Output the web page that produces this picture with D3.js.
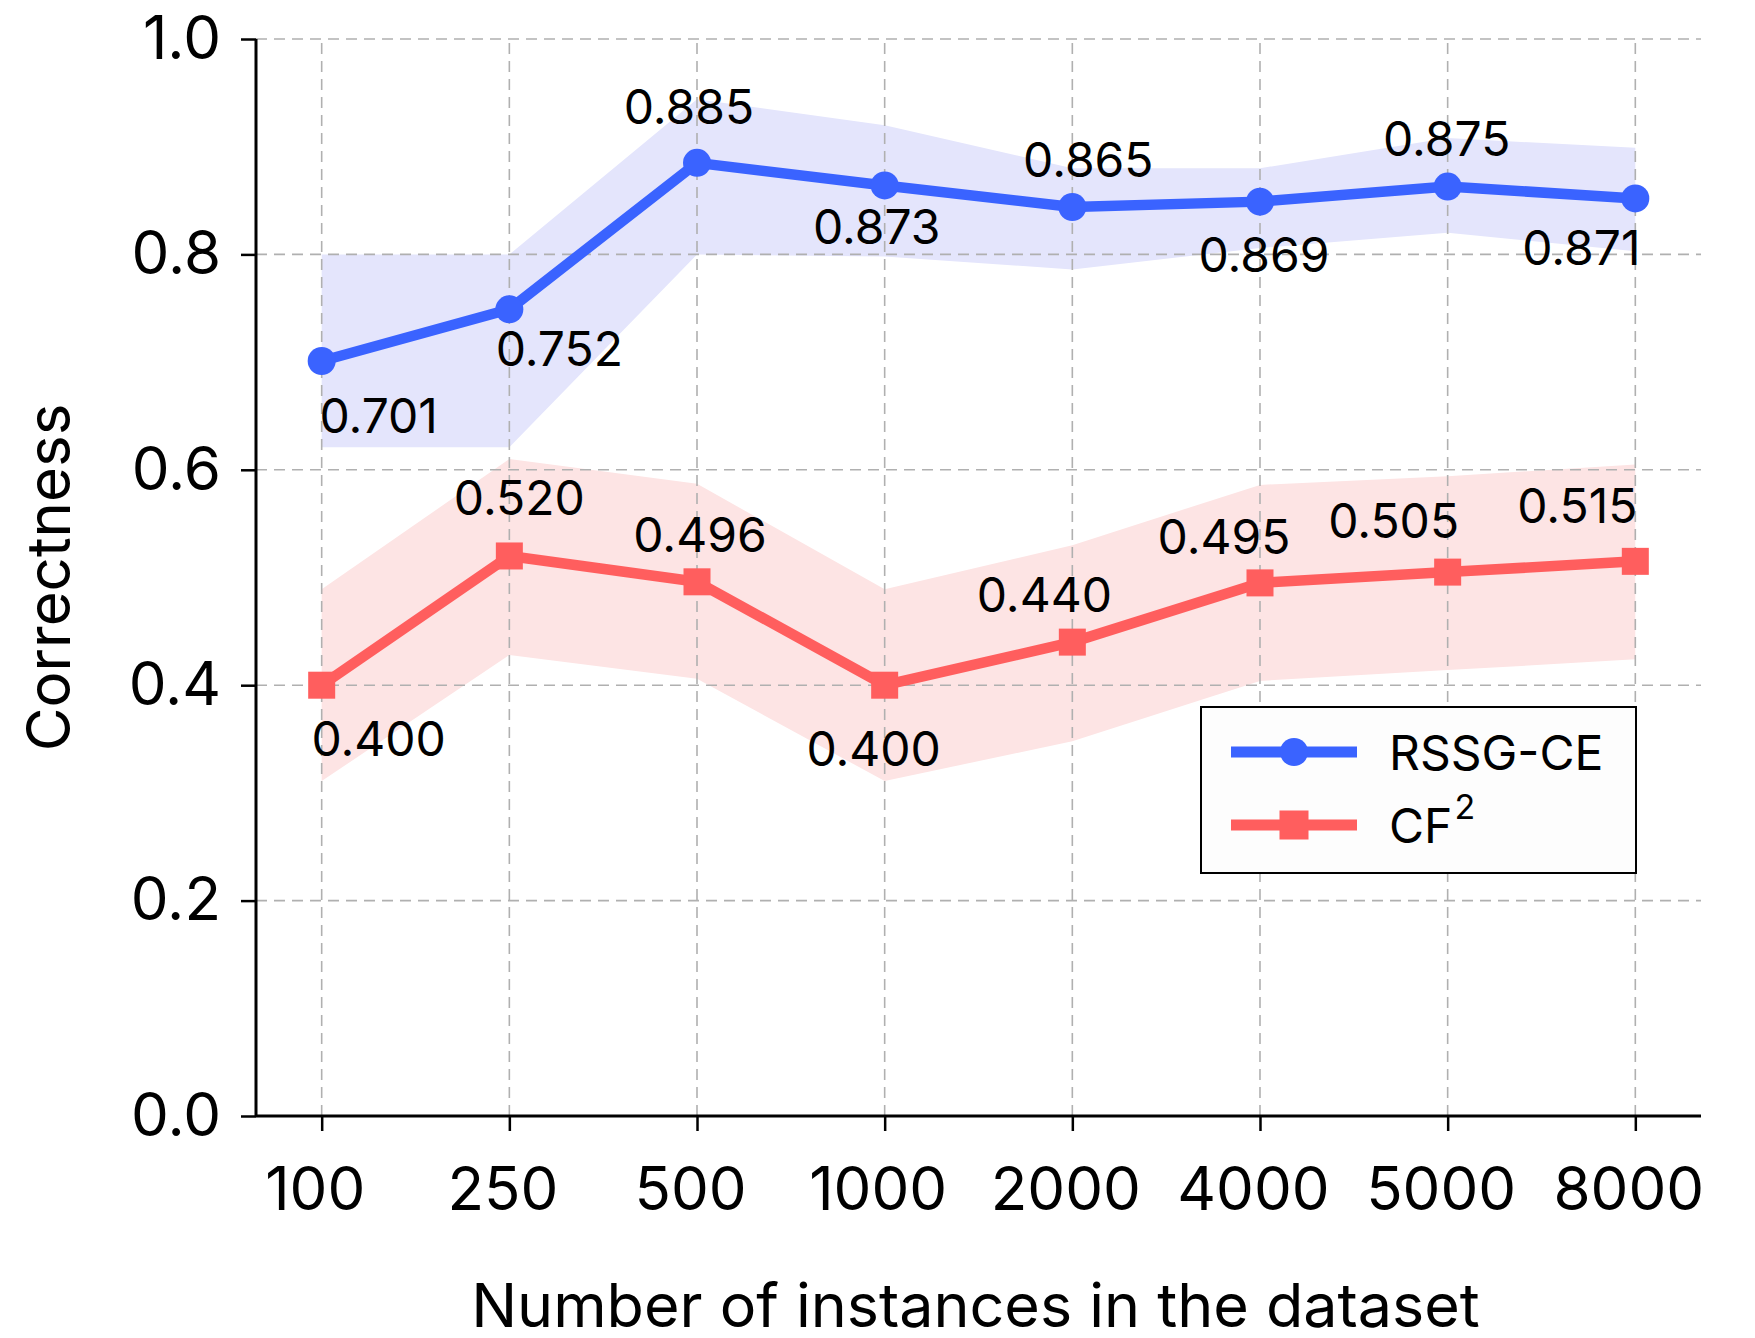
<!DOCTYPE html>
<html>
<head>
<meta charset="utf-8">
<script src="https://cdn.jsdelivr.net/npm/d3@7"></script>
<style>
  html, body { margin: 0; padding: 0; background: #fff; }
  svg { display: block; font-family: Inter, "Noto Sans", sans-serif; }
</style>
</head>
<body>
<svg id="chart" width="1755" height="1338"></svg>
<script>
// ---------------- data ----------------
const categories = ["100", "250", "500", "1000", "2000", "4000", "5000", "8000"];

const rssgMean   = [0.701, 0.749, 0.885, 0.864, 0.844, 0.849, 0.863, 0.852];
const rssgUpper  = [0.800, 0.800, 0.944, 0.920, 0.880, 0.880, 0.908, 0.899];
const rssgLower  = [0.621, 0.621, 0.800, 0.798, 0.786, 0.806, 0.820, 0.803];
const rssgLabels = ["0.701", "0.752", "0.885", "0.873", "0.865", "0.869", "0.875", "0.871"];

const cf2Mean    = [0.400, 0.520, 0.496, 0.400, 0.440, 0.495, 0.505, 0.515];
const cf2Upper   = [0.489, 0.610, 0.587, 0.489, 0.530, 0.586, 0.594, 0.605];
const cf2Lower   = [0.311, 0.428, 0.406, 0.311, 0.348, 0.404, 0.414, 0.424];
const cf2Labels  = ["0.400", "0.520", "0.496", "0.400", "0.440", "0.495", "0.505", "0.515"];

const yTicks = [0.0, 0.2, 0.4, 0.6, 0.8, 1.0];
const seriesNames = ["RSSG-CE", "CF"];

// ---------------- layout (pixel offsets of value labels) ----------------
const rssgLabelOffsets = [[57, 72], [50, 57], [-8, -39], [-8, 59], [16, -30], [4, 70], [-1, -31], [-54, 67]];
const cf2LabelOffsets  = [[57, 71], [10, -41], [3, -30], [-11, 81], [-28, -30], [-36, -29], [-54, -34], [-58, -38]];

const W = 1755, H = 1338;
const margin = { left: 256, right: 54, top: 39, bottom: 222 };
const x0 = margin.left, x1 = W - margin.right;
const y0 = H - margin.bottom, y1 = margin.top;

const blue = "#3A63FF", red = "#FF5E5E";
const blueFill = "#E4E5FC", redFill = "#FDE4E4";

const svg = d3.select("#chart");

const x = d3.scalePoint().domain(categories).range([x0, x1]).padding(0.35);
const y = d3.scaleLinear().domain([0, 1]).range([y0, y1]);

// bands
function band(upper, lower, fill) {
  const area = d3.area()
    .x((d, i) => x(categories[i]))
    .y0((d, i) => y(lower[i]))
    .y1((d, i) => y(upper[i]));
  svg.append("path").datum(upper).attr("d", area).attr("fill", fill).attr("stroke", "none");
}
band(rssgUpper, rssgLower, blueFill);
band(cf2Upper, cf2Lower, redFill);

// grid
const grid = svg.append("g");
grid.selectAll("line.h").data(yTicks.filter(t => t > 0)).join("line")
  .attr("x1", x0).attr("x2", x1)
  .attr("y1", d => y(d)).attr("y2", d => y(d))
  .attr("stroke", "#b0b0b0").attr("stroke-width", 1.6).attr("stroke-dasharray", "11,7");
grid.selectAll("line.v").data(categories).join("line")
  .attr("x1", d => x(d)).attr("x2", d => x(d))
  .attr("y1", y0).attr("y2", y1)
  .attr("stroke", "#b0b0b0").attr("stroke-width", 1.6).attr("stroke-dasharray", "11,7");

// axes
const xAxis = d3.axisBottom(x).tickSize(15).tickPadding(36);
const gx = svg.append("g").attr("transform", `translate(0,${y0})`).call(xAxis);
gx.select(".domain").attr("stroke", "#000").attr("stroke-width", 3).attr("d", `M${x0},0H${x1}`);
gx.selectAll(".tick line").attr("stroke", "#000").attr("stroke-width", 2.5);
gx.selectAll(".tick text").attr("font-size", 60).attr("font-family", "Inter").attr("fill", "#000").attr("dx", -7);

const yAxis = d3.axisLeft(y).tickValues(yTicks).tickFormat(d3.format(".1f")).tickSize(15).tickPadding(20);
const gy = svg.append("g").attr("transform", `translate(${x0},0)`).call(yAxis);
gy.select(".domain").attr("stroke", "#000").attr("stroke-width", 3).attr("d", `M0,${y0}V${y1}`);
gy.selectAll(".tick line").attr("stroke", "#000").attr("stroke-width", 2.5);
gy.selectAll(".tick text").attr("font-size", 60).attr("font-family", "Inter").attr("fill", "#000");

// axis titles
svg.append("text").attr("x", (x0 + x1) / 2 - 3).attr("y", 1327)
  .attr("text-anchor", "middle").attr("font-size", 61).attr("fill", "#000")
  .text("Number of instances in the dataset");
svg.append("text").attr("transform", `translate(70,${(y0 + y1) / 2}) rotate(-90)`)
  .attr("text-anchor", "middle").attr("font-size", 60).attr("fill", "#000")
  .text("Correctness");

// lines
const line = d3.line().x((d, i) => x(categories[i])).y(d => y(d));
svg.append("path").datum(rssgMean).attr("d", line).attr("fill", "none")
  .attr("stroke", blue).attr("stroke-width", 10.5).attr("stroke-linejoin", "round");
svg.append("path").datum(cf2Mean).attr("d", line).attr("fill", "none")
  .attr("stroke", red).attr("stroke-width", 10.5).attr("stroke-linejoin", "round");

// markers
svg.append("g").selectAll("circle").data(rssgMean).join("circle")
  .attr("cx", (d, i) => x(categories[i])).attr("cy", d => y(d)).attr("r", 14).attr("fill", blue);
const sq = 27;
svg.append("g").selectAll("rect").data(cf2Mean).join("rect")
  .attr("x", (d, i) => x(categories[i]) - sq / 2).attr("y", d => y(d) - sq / 2)
  .attr("width", sq).attr("height", sq).attr("fill", red);

// value labels
function labels(values, texts, offsets) {
  svg.append("g").selectAll("text").data(values).join("text")
    .attr("x", (d, i) => x(categories[i]) + offsets[i][0])
    .attr("y", (d, i) => y(d) + offsets[i][1])
    .attr("text-anchor", "middle").attr("font-size", 48).attr("fill", "#000")
    .text((d, i) => texts[i]);
}
labels(rssgMean, rssgLabels, rssgLabelOffsets);
labels(cf2Mean, cf2Labels, cf2LabelOffsets);

// legend
const lg = svg.append("g");
lg.append("rect").attr("x", 1201).attr("y", 707).attr("width", 435).attr("height", 166)
  .attr("fill", "#fdfdfd").attr("stroke", "#000").attr("stroke-width", 2);
const rows = [
  { name: seriesNames[0], color: blue, shape: "circle", cy: 752 },
  { name: seriesNames[1], color: red, shape: "square", cy: 825 }
];
rows.forEach(r => {
  lg.append("line").attr("x1", 1231).attr("x2", 1357).attr("y1", r.cy).attr("y2", r.cy)
    .attr("stroke", r.color).attr("stroke-width", 11);
  if (r.shape === "circle") {
    lg.append("circle").attr("cx", 1294).attr("cy", r.cy).attr("r", 14).attr("fill", r.color);
  } else {
    lg.append("rect").attr("x", 1294 - 14.5).attr("y", r.cy - 14.5).attr("width", 29).attr("height", 29).attr("fill", r.color);
  }
  const t = lg.append("text").attr("x", 1389).attr("y", r.cy + 17.5).attr("font-size", 48).attr("fill", "#000").text(r.name);
  if (r.shape === "square") {
    t.append("tspan").attr("font-size", 34).attr("dx", 2).attr("dy", -24).text("2");
  }
});
</script>
</body>
</html>
